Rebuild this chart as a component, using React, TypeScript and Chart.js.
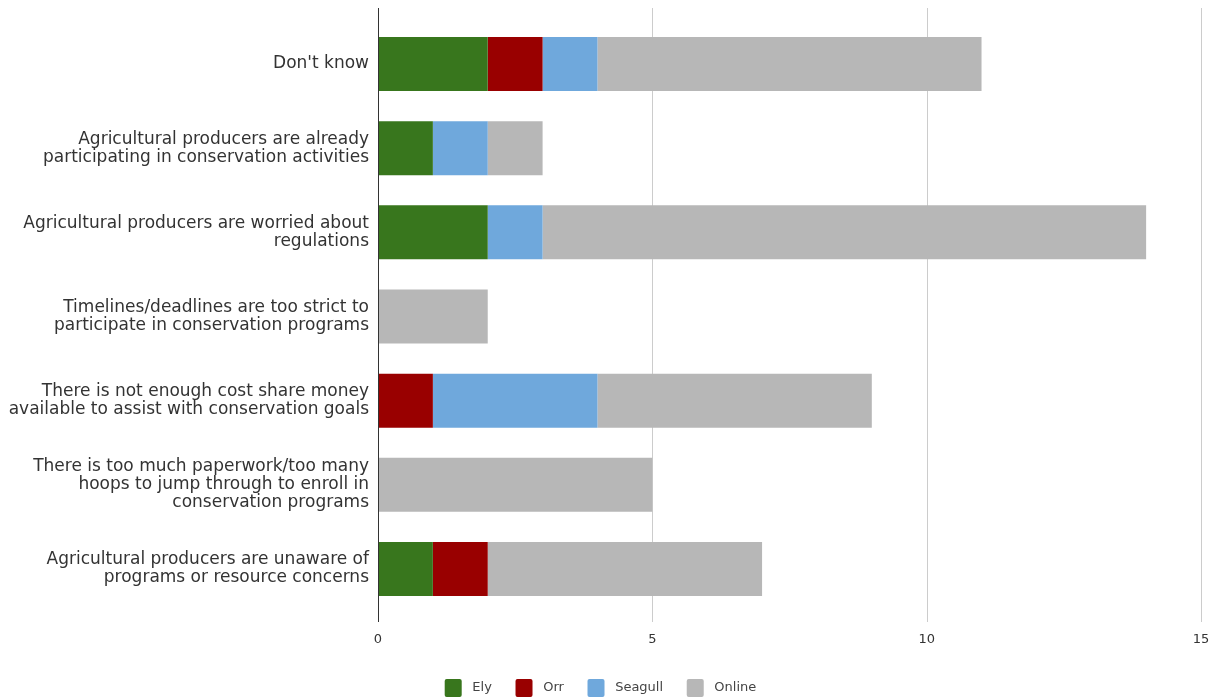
import React, { useEffect, useRef } from "react";
import { Chart, registerables } from "chart.js";

Chart.register(...registerables);

const categories: (string | string[])[] = [
  "Don't know",
  ["Agricultural producers are already", "participating in conservation activities"],
  ["Agricultural producers are worried about", "regulations"],
  ["Timelines/deadlines are too strict to", "participate in conservation programs"],
  ["There is not enough cost share money", "available to assist with conservation goals"],
  ["There is too much paperwork/too many", "hoops to jump through to enroll in", "conservation programs"],
  ["Agricultural producers are unaware of", "programs or resource concerns"],
];

const seriesNames = ["Ely", "Orr", "Seagull", "Online"];
const ely = [2, 1, 2, 0, 0, 0, 1];
const orr = [1, 0, 0, 0, 1, 0, 1];
const seagull = [1, 1, 1, 0, 3, 0, 0];
const online = [7, 1, 11, 2, 5, 5, 5];

const xTicks = [0, 5, 10, 15];

const FONT = "'DejaVu Sans', Verdana, sans-serif";

const gridPlugin = {
  id: "extendedGrid",
  beforeDatasetsDraw(chart: any) {
    const { ctx, chartArea, scales } = chart;
    const x = scales.x;
    ctx.save();
    ctx.strokeStyle = "#cccccc";
    ctx.lineWidth = 1;
    for (const v of xTicks) {
      if (v === 0) continue;
      const px = Math.round(x.getPixelForValue(v)) + 0.5;
      ctx.beginPath();
      ctx.moveTo(px, chartArea.top - 14);
      ctx.lineTo(px, chartArea.bottom + 11);
      ctx.stroke();
    }
    ctx.restore();
  },
  afterDatasetsDraw(chart: any) {
    const { ctx, chartArea, scales } = chart;
    const x = scales.x;
    ctx.save();
    ctx.strokeStyle = "#333333";
    ctx.lineWidth = 1;
    const px = Math.round(x.getPixelForValue(0)) + 0.5;
    ctx.beginPath();
    ctx.moveTo(px, chartArea.top - 14);
    ctx.lineTo(px, chartArea.bottom + 11);
    ctx.stroke();
    ctx.restore();
  },
};

export default function App() {
  const ref = useRef<HTMLCanvasElement>(null);
  useEffect(() => {
    const chart = new Chart(ref.current!, {
      type: "bar",
      data: {
        labels: categories,
        datasets: [
          { label: seriesNames[0], data: ely, backgroundColor: "#38761d", borderColor: "#38761d" },
          { label: seriesNames[1], data: orr, backgroundColor: "#990000", borderColor: "#990000" },
          { label: seriesNames[2], data: seagull, backgroundColor: "#6fa8dc", borderColor: "#6fa8dc" },
          { label: seriesNames[3], data: online, backgroundColor: "#b7b7b7", borderColor: "#b7b7b7" },
        ],
      },
      options: {
        indexAxis: "y",
        animation: false,
        responsive: false,
        maintainAspectRatio: false,
        datasets: { bar: { barPercentage: 0.642, categoryPercentage: 1 } },
        layout: { padding: { top: 22, right: 17, left: 0, bottom: -7 } },
        scales: {
          x: {
            stacked: true,
            min: 0,
            max: 15,
            afterBuildTicks(scale: any) {
              scale.ticks = xTicks.map((v) => ({ value: v }));
            },
            grid: { display: false, drawTicks: false },
            border: { display: false },
            ticks: {
              padding: 21,
              color: "#333333",
              font: { family: FONT, size: 13 },
            },
            afterFit(scale: any) {
              scale.height = 65;
              scale.paddingLeft = 0;
              scale.paddingRight = 0;
            },
          },
          y: {
            stacked: true,
            grid: { display: false, drawTicks: false },
            border: { display: false },
            ticks: {
              padding: 9,
              color: "#333333",
              font: { family: FONT, size: 17, lineHeight: "18px" },
            },
            afterFit(scale: any) {
              scale.width = 378;
              scale.paddingTop = 0;
              scale.paddingBottom = 0;
            },
          },
        },
        plugins: {
          legend: {
            position: "bottom",
            labels: {
              boxWidth: 17,
              boxHeight: 18,
              padding: 3,
              useBorderRadius: true,
              borderRadius: 2,
              color: "#444444",
              font: { family: FONT, size: 13 },
              generateLabels(chart: any) {
                const items = Chart.defaults.plugins.legend.labels.generateLabels(chart);
                return items.map((it: any, i: number) => ({
                  ...it,
                  lineWidth: 0,
                  text: " " + it.text + (i < items.length - 1 ? "     " : ""),
                }));
              },
            },
          },
          tooltip: { enabled: false },
        },
      },
      plugins: [gridPlugin],
    });
    return () => chart.destroy();
  }, []);
  return (
    <div style={{ position: "absolute", left: 0, top: 0, width: 1218, height: 700, background: "#fff" }}>
      <canvas ref={ref} width={1218} height={700} />
    </div>
  );
}
